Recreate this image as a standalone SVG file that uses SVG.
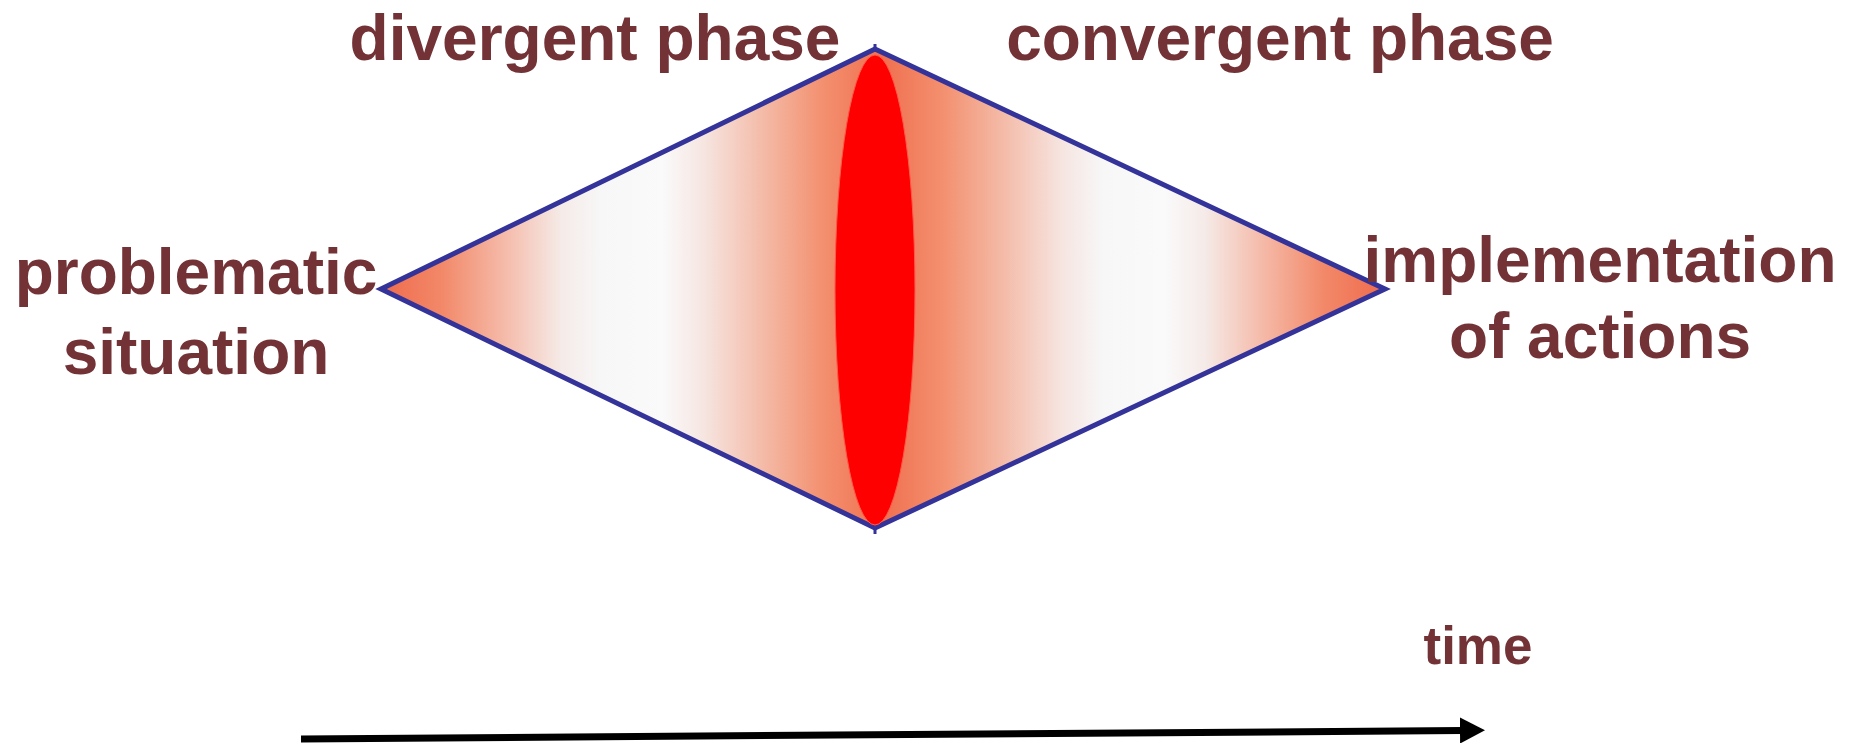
<svg xmlns="http://www.w3.org/2000/svg" width="1858" height="743" viewBox="0 0 1858 743">
  <style>
    .lbl { font-family: "Liberation Sans", Arial, Helvetica, sans-serif; font-weight: bold; fill: #733236; text-anchor: middle; }
    .big { font-size: 64px; }
    .small { font-size: 53px; }
  </style>
  <defs>
    <linearGradient id="band" gradientUnits="userSpaceOnUse" x1="381" y1="0" x2="1385" y2="0">
      <stop offset="0" stop-color="#EF6B4D"/>
      <stop offset="0.06" stop-color="#F28868"/>
      <stop offset="0.12" stop-color="#F5B8A6"/>
      <stop offset="0.18" stop-color="#F5EBE8"/>
      <stop offset="0.22" stop-color="#F7F7F7"/>
      <stop offset="0.28" stop-color="#FAFAFA"/>
      <stop offset="0.32" stop-color="#F6E6E2"/>
      <stop offset="0.38" stop-color="#F4BBA8"/>
      <stop offset="0.44" stop-color="#F3906F"/>
      <stop offset="0.5" stop-color="#F07050"/>
      <stop offset="0.56" stop-color="#F3906F"/>
      <stop offset="0.62" stop-color="#F4BBA8"/>
      <stop offset="0.68" stop-color="#F6E6E2"/>
      <stop offset="0.72" stop-color="#F7F7F7"/>
      <stop offset="0.78" stop-color="#FAFAFA"/>
      <stop offset="0.82" stop-color="#F5EBE8"/>
      <stop offset="0.88" stop-color="#F5B8A6"/>
      <stop offset="0.94" stop-color="#F28868"/>
      <stop offset="1" stop-color="#EF6B4D"/>
    </linearGradient>
    <marker id="arrowhead" markerUnits="userSpaceOnUse" markerWidth="26" markerHeight="26" refX="2" refY="13" orient="auto" viewBox="0 0 26 26">
      <polygon points="0,0 25,13 0,26" fill="#000"/>
    </marker>
  </defs>

  <g id="diamond">
    <polygon points="381,289 875,49 1385,289 875,528" fill="url(#band)" stroke="#333399" stroke-width="5" stroke-linejoin="miter"/>
    <line x1="875" y1="44" x2="875" y2="52" stroke="#333399" stroke-width="3"/>
    <line x1="875" y1="526" x2="875" y2="534" stroke="#333399" stroke-width="3"/>
  </g>

  <g id="core">
    <ellipse cx="875" cy="290" rx="40" ry="235" fill="#FF0000" stroke="#FF5A4A" stroke-width="1"/>
  </g>

  <g id="label-divergent">
    <text class="lbl big" x="595" y="60">divergent phase</text>
  </g>
  <g id="label-convergent">
    <text class="lbl big" x="1280" y="60">convergent phase</text>
  </g>
  <g id="label-problematic">
    <text class="lbl big" x="196" y="294">problematic</text>
    <text class="lbl big" x="196" y="374">situation</text>
  </g>
  <g id="label-implementation">
    <text class="lbl big" x="1600" y="282">implementation</text>
    <text class="lbl big" x="1600" y="358">of actions</text>
  </g>
  <g id="label-time">
    <text class="lbl small" x="1478" y="664">time</text>
  </g>

  <g id="connectors">
    <line x1="301" y1="739" x2="1462" y2="730.5" stroke="#000" stroke-width="7" marker-end="url(#arrowhead)"/>
  </g>
</svg>
